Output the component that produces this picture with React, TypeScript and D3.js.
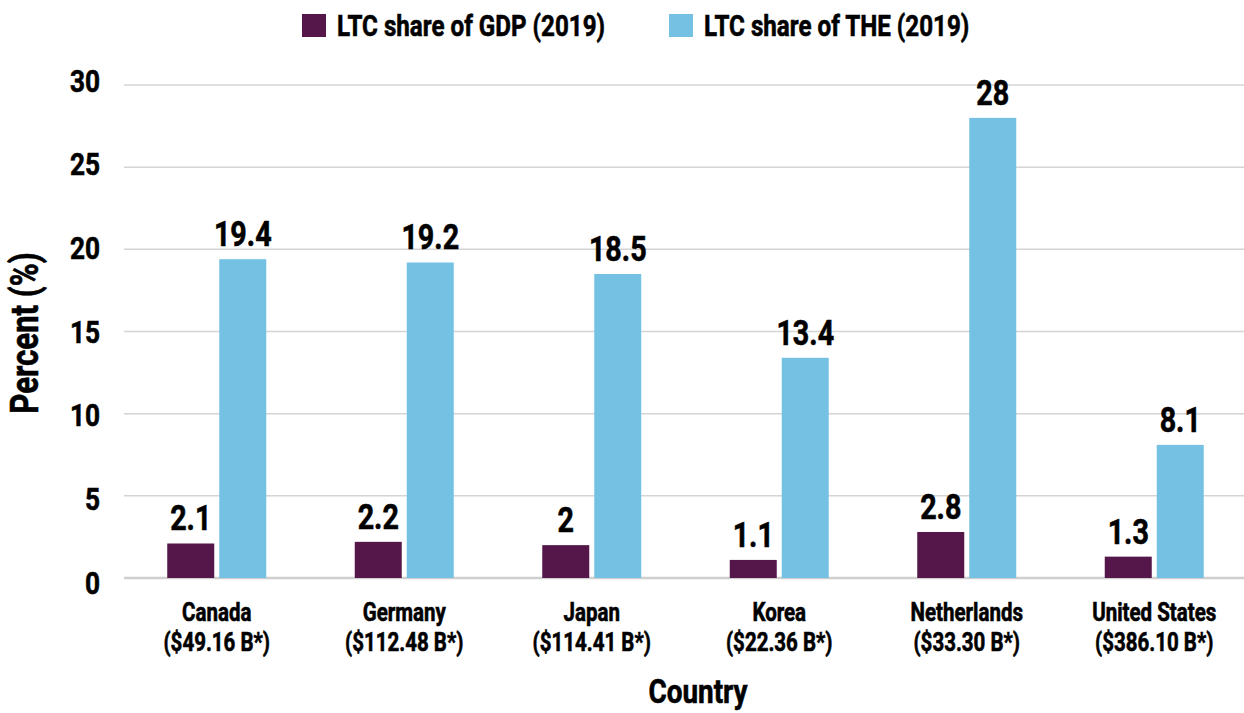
import React, { useEffect, useRef } from 'react';
import * as d3 from 'd3';

const countries = ['Canada', 'Germany', 'Japan', 'Korea', 'Netherlands', 'United States'];
const spending = ['($49.16 B*)', '($112.48 B*)', '($114.41 B*)', '($22.36 B*)', '($33.30 B*)', '($386.10 B*)'];
const gdpShare = [2.1, 2.2, 2, 1.1, 2.8, 1.3];
const theShare = [19.4, 19.2, 18.5, 13.4, 28, 8.1];
const yTicks = [0, 5, 10, 15, 20, 25, 30];
const seriesNames = ['LTC share of GDP (2019)', 'LTC share of THE (2019)'];
const colors = ['#55174a', '#74c1e3'];

// no condensed font installed, so squeeze Roboto horizontally
const FONT = "Roboto, 'DejaVu Sans', sans-serif";
const SX = 0.82;

export default function App() {
  const ref = useRef<SVGSVGElement>(null);

  useEffect(() => {
    const svg = d3.select(ref.current);
    svg.selectAll('*').remove();

    const width = 1244;
    const left = 123, right = 1248, top = 85, bottom = 578;

    const x = d3.scaleBand().domain(countries).range([left, right]);
    const y = d3.scaleLinear().domain([0, 30]).range([bottom, top]);
    // tick labels sit on a slightly taller scale than the gridlines
    const yLab = d3.scaleLinear().domain([0, 30]).range([582, 80]);
    const barW = 47, gap = 5;
    const cx = (c: string) => (x(c) as number) + x.bandwidth() / 2;

    const g = svg.append('g').style('font-family', FONT).style('font-weight', 700);

    function label(px: number, py: number, size: number, anchor: string, txt: string | number, rot = 0) {
      return g.append('text')
        .attr('transform', `translate(${px},${py}) rotate(${rot}) scale(${SX},1)`)
        .attr('text-anchor', anchor)
        .attr('font-size', size)
        .attr('fill', '#000')
        .attr('stroke', '#000')
        .attr('stroke-width', 0.6)
        .text(txt);
    }

    // gridlines
    g.selectAll('.grid')
      .data(yTicks)
      .enter()
      .append('line')
      .attr('x1', left + 1)
      .attr('x2', width)
      .attr('y1', d => y(d))
      .attr('y2', d => y(d))
      .attr('stroke', d => (d === 0 ? '#cfcfcf' : '#d4d4d4'))
      .attr('stroke-width', d => (d === 0 ? 2.5 : 1.5));

    // y tick labels
    yTicks.forEach(d => label(100, yLab(d) + 11.5, 32, 'end', d));

    const series = [gdpShare, theShare];
    series.forEach((vals, si) => {
      const offset = si === 0 ? -gap / 2 - barW : gap / 2;
      g.selectAll(`.bar${si}`)
        .data(vals)
        .enter()
        .append('rect')
        .attr('x', (d, i) => cx(countries[i]) + offset)
        .attr('y', d => y(d))
        .attr('width', barW)
        .attr('height', d => bottom - y(d))
        .attr('fill', colors[si]);
      vals.forEach((d, i) => label(cx(countries[i]) + offset + barW / 2, y(d) - 13, 35, 'middle', d));
    });

    // category labels
    countries.forEach((c, i) => {
      label(cx(c), 621, 25, 'middle', c);
      label(cx(c), 651, 25, 'middle', spending[i]);
    });

    // axis titles
    label(698, 703, 34, 'middle', 'Country');
    label(38, 333, 38, 'middle', 'Percent (%)', -90);

    // legend
    const legendX = [302, 669];
    seriesNames.forEach((name, i) => {
      g.append('rect')
        .attr('x', legendX[i])
        .attr('y', 14)
        .attr('width', 24)
        .attr('height', 23)
        .attr('fill', colors[i]);
      label(legendX[i] + 35, 36, 29.5, 'start', name);
    });
  }, []);

  return (
    <svg
      ref={ref}
      width={1244}
      height={713}
      style={{ position: 'absolute', left: 0, top: 0, background: '#fff' }}
    />
  );
}
